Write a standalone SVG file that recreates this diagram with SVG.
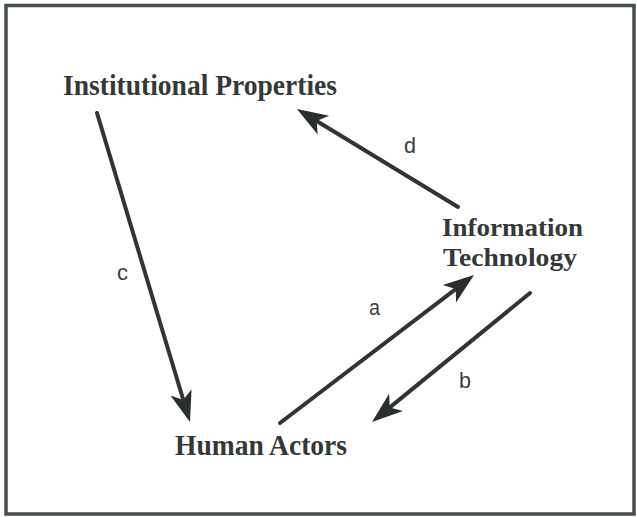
<svg xmlns="http://www.w3.org/2000/svg" width="637" height="517" viewBox="0 0 637 517">
<style>
.node{font-family:"Liberation Serif","Times New Roman",serif;font-weight:bold;font-size:29px;fill:#333936}
.node2{font-size:26px}
.lbl{font-family:"Liberation Sans",Arial,sans-serif;font-size:22px;fill:#3a403d}
.conn{stroke:#2f3532;stroke-width:4;fill:none;stroke-linecap:round}
</style>
<defs>
<marker id="ah" viewBox="-22 -13 36 26" refX="0" refY="0" markerWidth="36" markerHeight="26" markerUnits="userSpaceOnUse" orient="auto" overflow="visible">
<path d="M12,0 L-19,-11 L-11,0 L-19,11 Z" fill="#2a2f2d"/>
</marker>
</defs>
<rect x="6" y="5.5" width="628" height="508.5" fill="#fff" stroke="#46504c" stroke-width="3.5"/>
<g id="connectors">
<line id="c" class="conn" x1="97" y1="113" x2="186.5" y2="410.5" marker-end="url(#ah)"/>
<line id="a" class="conn" x1="280" y1="423" x2="464.5" y2="282.3" marker-end="url(#ah)"/>
<line id="b" class="conn" x1="530" y1="293" x2="381.3" y2="414.4" marker-end="url(#ah)"/>
<line id="d" class="conn" x1="458" y1="207" x2="307.2" y2="115.2" marker-end="url(#ah)"/>
<text class="lbl" x="117" y="280" textLength="11" lengthAdjust="spacingAndGlyphs">c</text>
<text class="lbl" x="369" y="315" textLength="11" lengthAdjust="spacingAndGlyphs">a</text>
<text class="lbl" x="459" y="388" textLength="12" lengthAdjust="spacingAndGlyphs">b</text>
<text class="lbl" x="404" y="153" textLength="12" lengthAdjust="spacingAndGlyphs">d</text>
</g>
<g id="institutional-properties">
<text class="node" x="63" y="95" textLength="274" lengthAdjust="spacingAndGlyphs">Institutional Properties</text>
</g>
<g id="information-technology">
<text class="node node2" x="442" y="236" textLength="141" lengthAdjust="spacingAndGlyphs">Information</text>
<text class="node node2" x="443" y="266" textLength="134" lengthAdjust="spacingAndGlyphs">Technology</text>
</g>
<g id="human-actors">
<text class="node" x="175" y="455" textLength="172" lengthAdjust="spacingAndGlyphs">Human Actors</text>
</g>
</svg>
